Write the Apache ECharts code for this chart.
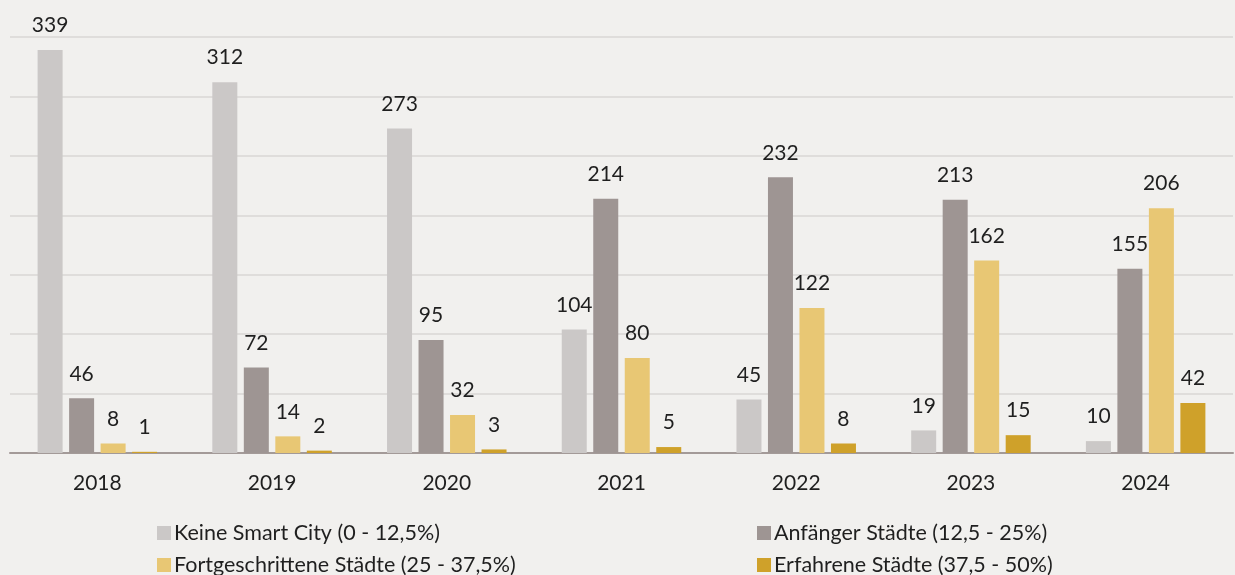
<!DOCTYPE html>
<html>
<head>
<meta charset="utf-8">
<script src="https://cdn.jsdelivr.net/npm/echarts@6/dist/echarts.min.js"></script>
<style>
  html, body { margin: 0; padding: 0; background: #f1f0ee; }
  #main { width: 1235px; height: 575px; }
</style>
</head>
<body>
<div id="main"></div>
<script>
// data
const years = ['2018', '2019', '2020', '2021', '2022', '2023', '2024'];
const keine = [339, 312, 273, 104, 45, 19, 10];
const anfaenger = [46, 72, 95, 214, 232, 213, 155];
const fortgeschritten = [8, 14, 32, 80, 122, 162, 206];
const erfahren = [1, 2, 3, 5, 8, 15, 42];

const names = [
  'Keine Smart City (0 - 12,5%)',
  'Anfänger Städte (12,5 - 25%)',
  'Fortgeschrittene Städte (25 - 37,5%)',
  'Erfahrene Städte (37,5 - 50%)'
];
const colors = ['#cbc8c7', '#9e9593', '#e8c774', '#cfa12a'];
const values = [keine, anfaenger, fortgeschritten, erfahren];

const font = 'Lato, "Open Sans", sans-serif';

var myChart = echarts.init(document.getElementById('main'));

const series = values.map((v, i) => ({
  name: names[i],
  type: 'bar',
  data: v,
  barWidth: 25,
  barGap: '26%',
  itemStyle: { color: colors[i] },
  label: {
    show: true,
    position: 'top',
    distance: 14,
    color: '#1f1f1f',
    fontSize: 21,
    fontFamily: font
  }
}));

// one legend per item, placed like the 2x2 block of the original
const legendPos = [[152, 517], [752, 517], [152, 549], [752, 549]];
const legends = names.map((n, i) => ({
  left: legendPos[i][0],
  top: legendPos[i][1],
  data: [n],
  itemWidth: 14,
  itemHeight: 14,
  icon: 'rect',
  textStyle: { fontSize: 21.5, color: '#1f1f1f', fontFamily: font, padding: [0, 0, 0, -2] }
}));

myChart.setOption({
  backgroundColor: '#f1f0ee',
  animation: false,
  grid: { left: 10, right: 2, top: 37, bottom: 122 },
  legend: legends,
  xAxis: {
    type: 'category',
    data: years,
    axisLine: { lineStyle: { color: '#a39a98', width: 2 } },
    axisTick: { show: false },
    axisLabel: { fontSize: 21, color: '#1f1f1f', fontFamily: font, margin: 20 }
  },
  yAxis: {
    type: 'value',
    min: 0,
    max: 350,
    interval: 50,
    axisLabel: { show: false },
    axisLine: { show: false },
    axisTick: { show: false },
    splitLine: { lineStyle: { color: '#dfdddb', width: 2 } }
  },
  series: series
});
</script>
</body>
</html>
